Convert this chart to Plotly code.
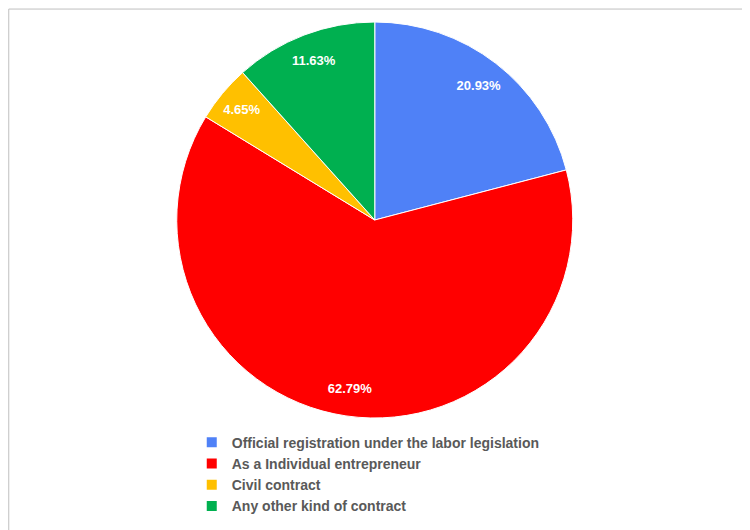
import plotly.graph_objects as go

labels = ["Official registration under the labor legislation",
          "As a Individual entrepreneur",
          "Civil contract",
          "Any other kind of contract"]
values = [20.93, 62.79, 4.65, 11.63]
colors = ["#4f81f7", "#ff0000", "#ffc000", "#00b050"]

dom = dict(x=[0.225, 0.753], y=[0.226, 0.974])
fig = go.Figure()
fig.add_trace(go.Pie(
    labels=labels, values=values, sort=False, direction="clockwise", rotation=0,
    marker=dict(colors=colors, line=dict(color="white", width=1)),
    textinfo="none", hoverinfo="skip", domain=dom,
))
# transparent ring trace to place percentage labels near the rim
fig.add_trace(go.Pie(
    labels=labels, values=values, sort=False, direction="clockwise", rotation=0,
    hole=0.72, showlegend=False,
    marker=dict(colors=["rgba(0,0,0,0)"] * 4, line=dict(width=0)),
    texttemplate="<b>%{value:.2f}%</b>", textposition="inside", insidetextorientation="horizontal",
    textfont=dict(family="Liberation Sans, Arial", size=13, color="white"),
    domain=dom,
))
fig.update_layout(
    width=750, height=530, margin=dict(l=0, r=0, t=0, b=0),
    paper_bgcolor="white",
    font=dict(family="Liberation Sans, Arial"),
    legend=dict(x=0.245, y=0.21, xanchor="left", yanchor="top",
                font=dict(size=14, color="#595959", weight="bold"),
                tracegroupgap=0, itemwidth=30, itemsizing="constant"),
    shapes=[dict(type="rect", xref="paper", yref="paper", x0=0.001, y0=0.002, x1=0.999, y1=0.998,
                 line=dict(color="#bfbfbf", width=1))],
)
fig.write_html("out.html")
